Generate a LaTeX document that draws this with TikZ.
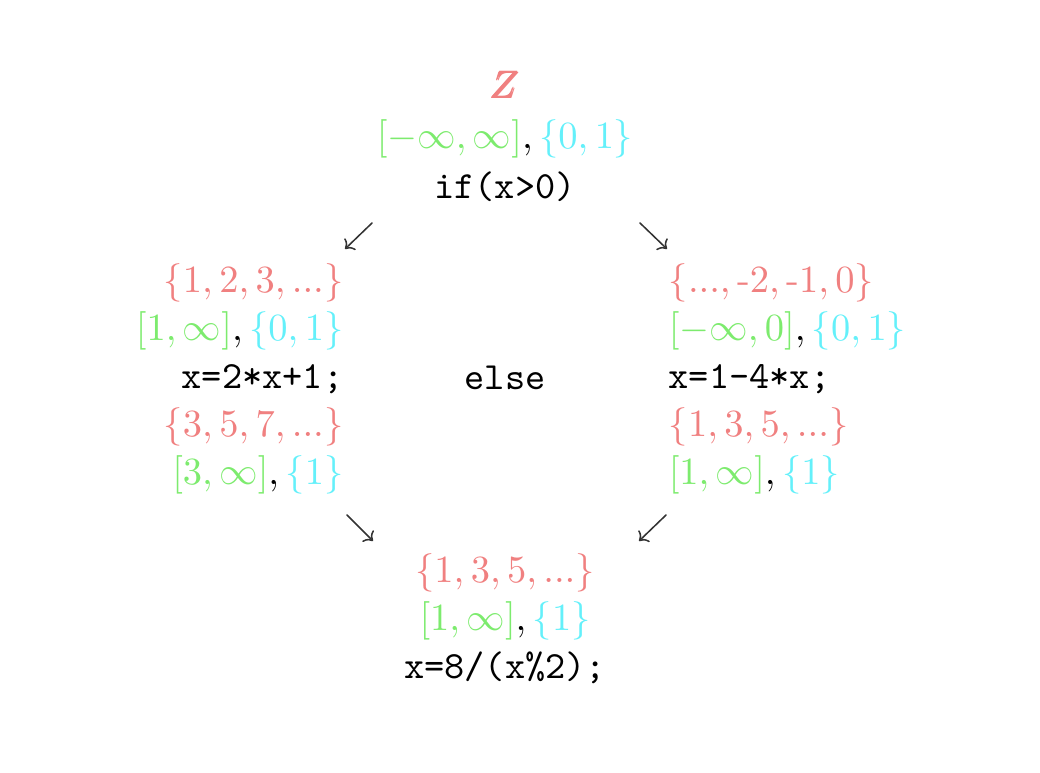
\documentclass[tikz,border=0pt]{standalone}
\usepackage{amsmath,amssymb,bm}
\usepackage{xcolor}
\usetikzlibrary{arrows.meta,positioning}

\definecolor{setred}{RGB}{240,128,128}
\definecolor{setgreen}{RGB}{125,235,110}
\definecolor{setcyan}{RGB}{100,240,250}

\begin{document}
\begin{tikzpicture}[x=0.26pt, y=-0.26pt, line cap=round, line join=round,
  block/.style={inner sep=0pt, font=\fontsize{10}{12.5}\selectfont},
  flow/.style={draw=black!80, line width=0.4pt, -{To[length=2pt]}}]

\useasboundingbox (0,0) rectangle (1040,772);

% ---------------------------------------------------------
% Blocks
% ---------------------------------------------------------
\node[block, align=center, font=\fontsize{10}{13}\selectfont] (top) at (505,136)
  {$\color{setred}\pmb{Z}$\\
   ${\color{setgreen}[-\infty,\infty]},{\color{setcyan}\{0,1\}}$\\
   \texttt{if(x>0)}};

\node[block, align=right, anchor=east] (then) at (344,379)
  {$\color{setred}\{1,2,3,...\}$\\
   ${\color{setgreen}[1,\infty]},{\color{setcyan}\{0,1\}}$\\
   \texttt{x=2*x+1;}\\
   $\color{setred}\{3,5,7,...\}$\\
   ${\color{setgreen}[3,\infty]},{\color{setcyan}\{1\}}$};

\node[block, align=left, anchor=west] (other) at (668,379)
  {$\color{setred}\{...,\text{-}2,\text{-}1,0\}$\\
   ${\color{setgreen}[-\infty,0]},{\color{setcyan}\{0,1\}}$\\
   \texttt{x=1-4*x;}\\
   $\color{setred}\{1,3,5,...\}$\\
   ${\color{setgreen}[1,\infty]},{\color{setcyan}\{1\}}$};

\node[block] (else) at (505,378) {\texttt{else}};

\node[block, align=center] (join) at (505,619)
  {$\color{setred}\{1,3,5,...\}$\\
   ${\color{setgreen}[1,\infty]},{\color{setcyan}\{1\}}$\\
   \texttt{x=8/(x\%2);}};

% ---------------------------------------------------------
% Arrow ends
% ---------------------------------------------------------
\coordinate (tl0) at (372,223);  \coordinate (tl1) at (345,249);
\coordinate (tr0) at (640,223);  \coordinate (tr1) at (667,249);
\coordinate (bl0) at (347,515);  \coordinate (bl1) at (373,541);
\coordinate (br0) at (666,515);  \coordinate (br1) at (639,541);

% ---------------------------------------------------------
% Arrows
% ---------------------------------------------------------
\draw[flow] (tl0) -- (tl1);
\draw[flow] (tr0) -- (tr1);
\draw[flow] (bl0) -- (bl1);
\draw[flow] (br0) -- (br1);

\end{tikzpicture}
\end{document}
